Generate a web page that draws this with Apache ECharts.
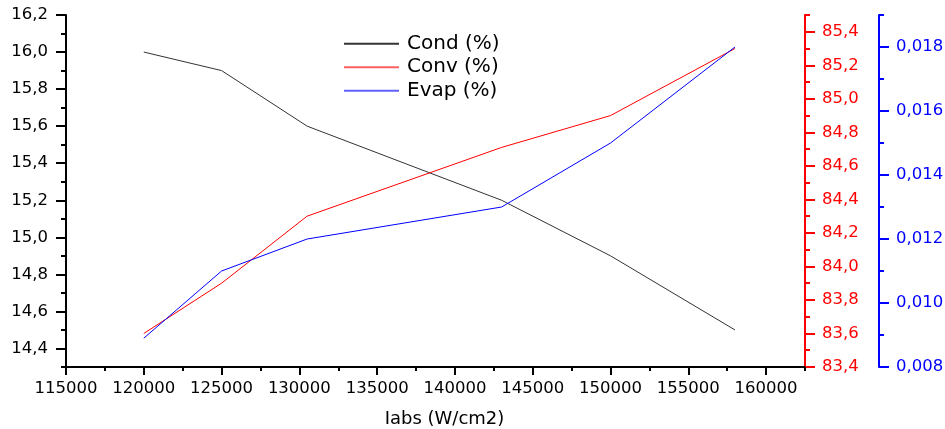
<!DOCTYPE html>
<html>
<head>
<meta charset="utf-8">
<script src="https://cdn.jsdelivr.net/npm/echarts@6/dist/echarts.min.js"></script>
<style>
html,body{margin:0;padding:0;background:#fff;}
#chart{width:945px;height:429px;}
</style>
</head>
<body>
<div id="chart"></div>
<script>
// ---- data ----
var xValues = [120000, 125000, 130500, 143000, 150000, 158000];
var condValues = [16.0, 15.9, 15.6, 15.2, 14.9, 14.5];
var convValues = [83.6, 83.9, 84.3, 84.71, 84.9, 85.3];
var evapValues = [0.0089, 0.011, 0.012, 0.013, 0.015, 0.018];
var seriesNames = ['Cond (%)', 'Conv (%)', 'Evap (%)'];

// ---- ticks ----
var xMajorTicks = [115000, 120000, 125000, 130000, 135000, 140000, 145000, 150000, 155000, 160000];
var xMinorTicks = [117500, 122500, 127500, 132500, 137500, 142500, 147500, 152500, 157500, 162500];
var condMajorTicks = [14.4, 14.6, 14.8, 15.0, 15.2, 15.4, 15.6, 15.8, 16.0, 16.2];
var condMinorTicks = [14.3, 14.5, 14.7, 14.9, 15.1, 15.3, 15.5, 15.7, 15.9, 16.1];
var convMajorTicks = [83.4, 83.6, 83.8, 84.0, 84.2, 84.4, 84.6, 84.8, 85.0, 85.2, 85.4];
var convMinorTicks = [83.5, 83.7, 83.9, 84.1, 84.3, 84.5, 84.7, 84.9, 85.1, 85.3, 85.5];
var evapMajorTicks = [0.008, 0.010, 0.012, 0.014, 0.016, 0.018];
var evapMinorTicks = [0.009, 0.011, 0.013, 0.015, 0.017, 0.019];

function pairs(xs, ys) { return xs.map(function (x, i) { return [x, ys[i]]; }); }
function comma(d) { return function (v) { return Number(v).toFixed(d).replace('.', ','); }; }

var FONT = 'DejaVu Sans';
var TICK_FONT = 16.5;

function yAxisPair(color, min, max, position, offset, major, minor, decimals, margin) {
  return [{
    type: 'value', min: min, max: max, position: position, offset: offset,
    axisLine: { show: true, onZero: false, lineStyle: { color: color, width: 2 } },
    axisTick: { show: true, inside: false, length: 10, customValues: major, lineStyle: { color: color, width: 2 } },
    axisLabel: { show: true, customValues: major, formatter: comma(decimals), color: color, fontSize: TICK_FONT, fontFamily: FONT, margin: margin },
    splitLine: { show: false }
  }, {
    type: 'value', min: min, max: max, position: position, offset: offset,
    axisLine: { show: false },
    axisTick: { show: true, inside: false, length: 5, customValues: minor, lineStyle: { color: color, width: 2 } },
    axisLabel: { show: false },
    splitLine: { show: false }
  }];
}

var yAxes = []
  .concat(yAxisPair('#000', 14.3, 16.2, 'left', 0, condMajorTicks, condMinorTicks, 1, 18))
  .concat(yAxisPair('#ff0000', 83.4, 85.5, 'right', 0, convMajorTicks, convMinorTicks, 1, 17))
  .concat(yAxisPair('#0000ff', 0.008, 0.019, 'right', 74, evapMajorTicks, evapMinorTicks, 3, 17));

var chart = echarts.init(document.getElementById('chart'), null, { renderer: 'canvas' });
chart.setOption({
  animation: false,
  backgroundColor: '#fff',
  textStyle: { fontFamily: FONT },
  grid: { left: 66, right: 140, top: 15, bottom: 62, containLabel: false, outerBoundsMode: 'none' },
  legend: {
    orient: 'vertical', left: 339, top: 27,
    itemWidth: 55, itemHeight: 2, itemGap: 0, icon: 'rect',
    textStyle: { fontSize: 20, color: '#000', fontFamily: FONT, lineHeight: 23.5, padding: [0, 0, 0, 3] },
    data: seriesNames
  },
  xAxis: [{
    type: 'value', min: 115000, max: 162500, position: 'bottom',
    axisLine: { show: true, onZero: false, lineStyle: { color: '#000', width: 2 } },
    axisTick: { show: true, inside: false, length: 8, customValues: xMajorTicks, lineStyle: { color: '#000', width: 2 } },
    axisLabel: { show: true, customValues: xMajorTicks, formatter: function (v) { return String(v); }, color: '#000', fontSize: TICK_FONT, fontFamily: FONT, margin: 13 },
    splitLine: { show: false },
    name: 'Iabs (W/cm2)', nameLocation: 'middle', nameGap: 43,
    nameTextStyle: { fontSize: 18, color: '#000', fontFamily: FONT, padding: [0, 0, 0, 18] }
  }, {
    type: 'value', min: 115000, max: 162500, position: 'bottom',
    axisLine: { show: false },
    axisTick: { show: true, inside: false, length: 4, customValues: xMinorTicks, lineStyle: { color: '#000', width: 2 } },
    axisLabel: { show: false },
    splitLine: { show: false }
  }],
  yAxis: yAxes,
  series: [{
    name: seriesNames[0], type: 'line', xAxisIndex: 0, yAxisIndex: 0,
    data: pairs(xValues, condValues), symbol: 'none',
    lineStyle: { color: '#333', width: 1 }, itemStyle: { color: '#333' }
  }, {
    name: seriesNames[1], type: 'line', xAxisIndex: 0, yAxisIndex: 2,
    data: pairs(xValues, convValues), symbol: 'none',
    lineStyle: { color: '#ff0000', width: 1 }, itemStyle: { color: '#ff6060' }
  }, {
    name: seriesNames[2], type: 'line', xAxisIndex: 0, yAxisIndex: 4,
    data: pairs(xValues, evapValues), symbol: 'none',
    lineStyle: { color: '#0000ff', width: 1 }, itemStyle: { color: '#6060ff' }
  }]
});
</script>
</body>
</html>
